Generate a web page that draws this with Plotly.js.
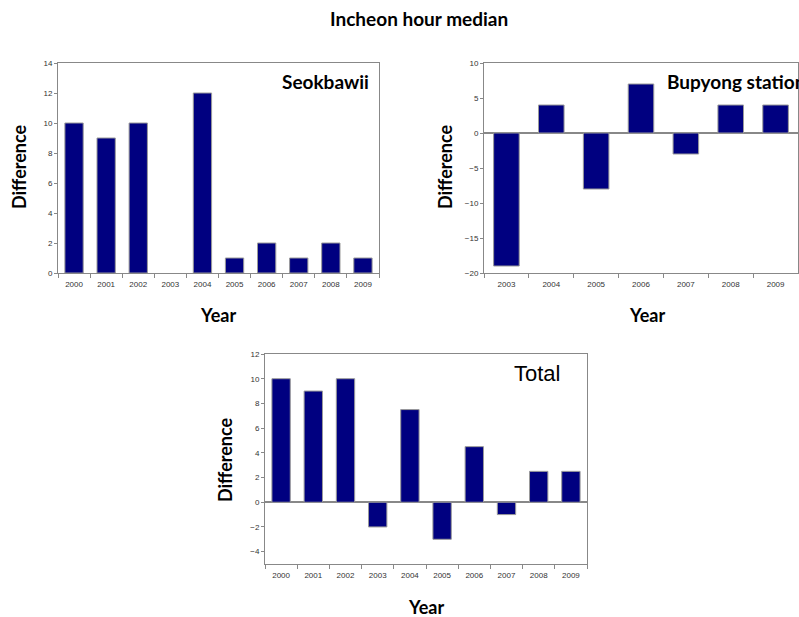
<!DOCTYPE html>
<html>
<head>
<meta charset="utf-8">
<script src="https://cdn.plot.ly/plotly-3.0.1.min.js"></script>
<style>html,body{margin:0;padding:0;background:#fff;}#chart{width:799px;height:617px;}</style>
</head>
<body>
<div id="chart"></div>
<script>
// ---- data ----
const yearsAll = ['2000','2001','2002','2003','2004','2005','2006','2007','2008','2009'];
const seokbawiiValues = [10, 9, 10, null, 12, 1, 2, 1, 2, 1];
const yearsBupyong = ['2003','2004','2005','2006','2007','2008','2009'];
const bupyongValues = [-19, 4, -8, 7, -3, 4, 4];
const totalValues = [10, 9, 10, -2, 7.5, -3, 4.5, -1, 2.5, 2.5];
const chartTitle = 'Incheon hour median';
const panelNames = ['Seokbawii', 'Bupyong station', 'Total'];
const xTitle = 'Year';
const yTitle = 'Difference';

// ---- style ----
const W = 799, H = 617;
const px = v => v / W;
const py = v => 1 - v / H;
const barColor = '#000080';
const frameColor = '#888888';
const tickFont = {family: 'Liberation Sans, Arial, sans-serif', size: 8, color: '#333333'};
const boldFam = 'Lato, Open Sans, sans-serif';
const boldFont = {family: boldFam, size: 18, color: '#000000', weight: 'bold'};

function bar(x, y, xa, ya) {
  return {type: 'bar', x: x, y: y, xaxis: xa, yaxis: ya,
    marker: {color: barColor, line: {color: '#9a9a9a', width: 1}},
    hoverinfo: 'x+y', showlegend: false};
}
function xaxisCfg(domain, anchor) {
  return {domain: domain, anchor: anchor, type: 'category', showline: true, mirror: true,
    linecolor: frameColor, linewidth: 1, ticks: 'outside', tickson: 'boundaries',
    ticklen: 4, tickcolor: frameColor, tickfont: tickFont, ticklabelstandoff: 3,
    showgrid: false, zeroline: false, fixedrange: true};
}
function yaxisCfg(domain, anchor, range, dtick, zl) {
  return {domain: domain, anchor: anchor, range: range, dtick: dtick, tick0: 0,
    showline: true, mirror: true, linecolor: frameColor, linewidth: 1,
    ticks: 'outside', ticklen: 3, tickcolor: frameColor, tickfont: tickFont,
    showgrid: false, zeroline: zl, zerolinecolor: frameColor, zerolinewidth: 1.5,
    fixedrange: true};
}

const data = [
  bar(yearsAll, seokbawiiValues, 'x', 'y'),
  bar(yearsBupyong, bupyongValues, 'x2', 'y2'),
  bar(yearsAll, totalValues, 'x3', 'y3')
];

const dTL = {x: [px(58), px(379)], y: [py(273), py(63)]};
const dTR = {x: [px(484), px(798)], y: [py(273), py(63)]};
const dB  = {x: [px(265), px(587)], y: [py(564), py(354)]};

function ann(text, x, y, opts) {
  return Object.assign({text: text, x: px(x), y: py(y), xref: 'paper', yref: 'paper',
    showarrow: false, font: boldFont, xanchor: 'center', yanchor: 'middle'}, opts || {});
}

const layout = {
  width: W, height: H,
  margin: {l: 0, r: 0, t: 0, b: 0},
  paper_bgcolor: '#ffffff', plot_bgcolor: '#ffffff',
  bargap: 0.43,
  xaxis: xaxisCfg(dTL.x, 'y'),
  yaxis: yaxisCfg(dTL.y, 'x', [0, 14], 2, false),
  xaxis2: xaxisCfg(dTR.x, 'y2'),
  yaxis2: yaxisCfg(dTR.y, 'x2', [-20, 10], 5, true),
  xaxis3: xaxisCfg(dB.x, 'y3'),
  yaxis3: yaxisCfg(dB.y, 'x3', [-5, 12], 2, true),
  annotations: [
    ann(chartTitle, 419, 18, {font: {family: boldFam, size: 19, color: '#000', weight: 'bold'}}),
    ann(panelNames[0], 371, 82, {xanchor: 'right', font: {family: boldFam, size: 19, color: '#000', weight: 'bold'}}),
    ann(panelNames[1], 665, 82, {xanchor: 'left', font: {family: boldFam, size: 19, color: '#000', weight: 'bold'}}),
    ann(panelNames[2], 512, 373, {xanchor: 'left', font: {family: 'Liberation Sans, Arial, sans-serif', size: 22, color: '#000'}}),
    ann(xTitle, 218, 315),
    ann(xTitle, 647, 315),
    ann(xTitle, 426, 607),
    ann(yTitle, 19, 167, {textangle: -90}),
    ann(yTitle, 445, 167, {textangle: -90}),
    ann(yTitle, 225, 460, {textangle: -90})
  ]
};

Plotly.newPlot('chart', data, layout, {displayModeBar: false, staticPlot: true});
</script>
</body>
</html>
